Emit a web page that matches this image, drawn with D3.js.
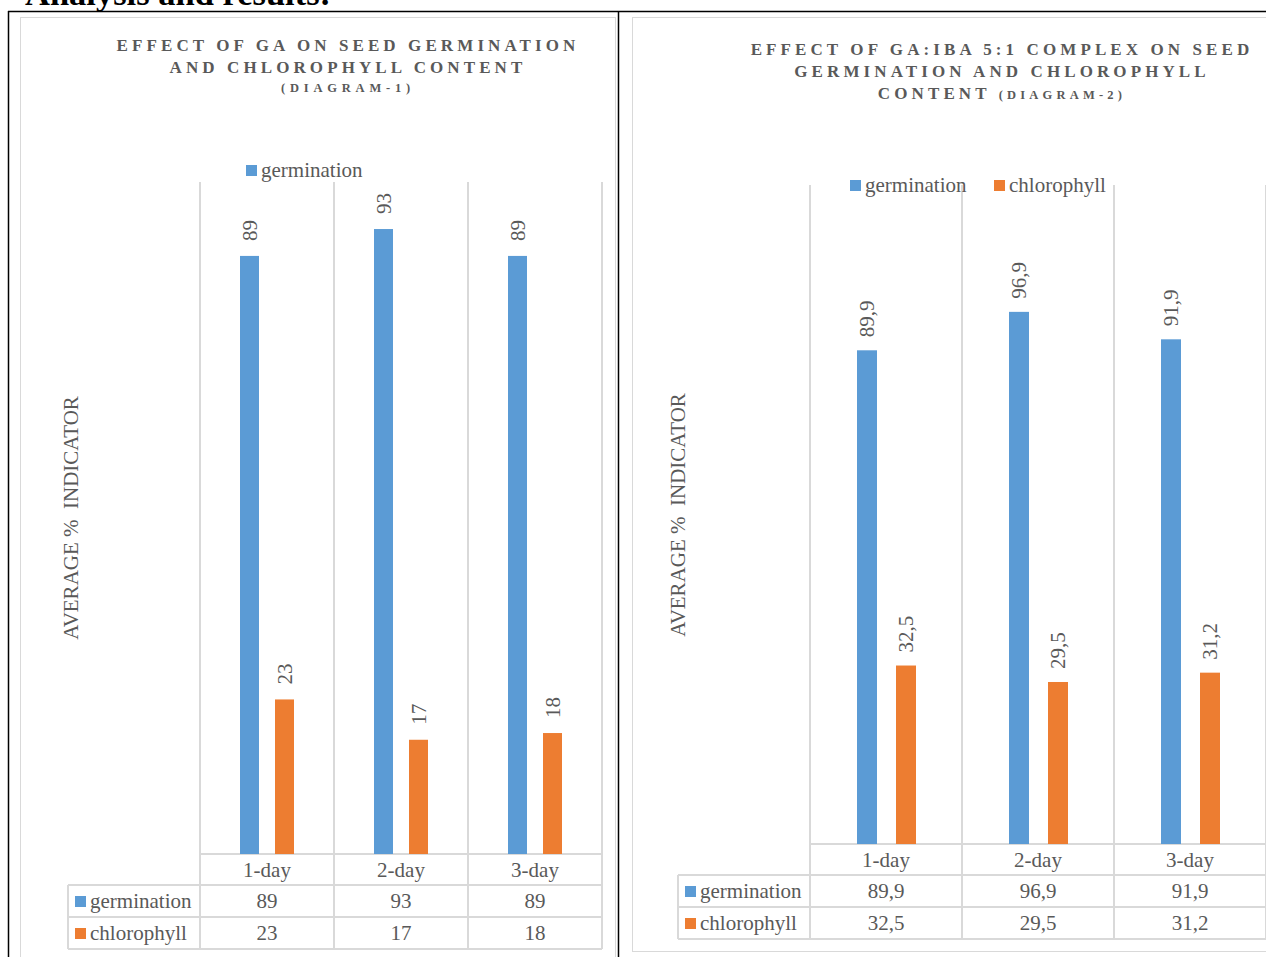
<!DOCTYPE html>
<html><head><meta charset="utf-8">
<script src="https://cdn.jsdelivr.net/npm/d3@7"></script>
<style>body{margin:0;background:#fff;} svg{display:block;font-family:"Liberation Serif","Times New Roman",serif;}</style>
</head><body><svg id="c" width="1266" height="957"></svg>
<script>
const categories = ["1-day", "2-day", "3-day"];
const seriesNames = ["germination", "chlorophyll"];
const germination1 = [89, 93, 89];
const chlorophyll1 = [23, 17, 18];
const germination2 = [89.9, 96.9, 91.9];
const chlorophyll2 = [32.5, 29.5, 31.2];
const title1 = ["EFFECT OF GA ON SEED GERMINATION", "AND CHLOROPHYLL CONTENT"];
const title1b = "(DIAGRAM-1)";
const title2 = ["EFFECT OF GA:IBA 5:1 COMPLEX ON SEED", "GERMINATION AND CHLOROPHYLL"];
const title2c = "CONTENT";
const title2b = "(DIAGRAM-2)";
const yTitle = "AVERAGE %  INDICATOR";

const colors = {germination: "#5b9bd5", chlorophyll: "#ed7d31"};
const grid = "#d9d9d9", txt = "#595959";
const FS = 21;
const svg = d3.select("#c");
const fmt = v => String(v).replace(".", ",");

// document frame
svg.append("text").attr("x", 25).attr("y", 4.5).attr("font-size", 34.5).attr("font-weight", "bold").attr("fill", "#000").text("Analysis and results:");
svg.append("line").attr("x1", 8).attr("x2", 1266).attr("y1", 11.5).attr("y2", 11.5).attr("stroke", "#000").attr("stroke-width", 1.5);
svg.append("line").attr("x1", 8.5).attr("x2", 8.5).attr("y1", 11).attr("y2", 957).attr("stroke", "#000").attr("stroke-width", 1.5);
svg.append("line").attr("x1", 618.5).attr("x2", 618.5).attr("y1", 11).attr("y2", 957).attr("stroke", "#000").attr("stroke-width", 1.5);
// chart area borders
svg.append("rect").attr("x", 20.5).attr("y", 17.5).attr("width", 595).attr("height", 950).attr("fill", "none").attr("stroke", grid);
svg.append("rect").attr("x", 632.5).attr("y", 17.5).attr("width", 650).attr("height", 934).attr("fill", "none").attr("stroke", grid);

function drawChart(cfg) {
  const g = svg.append("g");
  const x0 = d3.scaleBand().domain(categories).range([cfg.left, cfg.right]);
  const x1 = d3.scaleBand().domain(seriesNames).range(cfg.inner).paddingInner(cfg.pin);
  const y = d3.scaleLinear().domain([0, cfg.max]).range([cfg.base, cfg.top]);
  const data = {germination: cfg.g, chlorophyll: cfg.c};
  const bounds = categories.map(c => x0(c)).concat([cfg.right]);
  g.selectAll("line.v").data(bounds).join("line")
    .attr("x1", d => d).attr("x2", d => d).attr("y1", y(cfg.max)).attr("y2", cfg.rows[3])
    .attr("stroke", grid).attr("stroke-width", 2);
  g.append("line").attr("x1", cfg.left).attr("x2", cfg.right).attr("y1", cfg.rows[0]).attr("y2", cfg.rows[0]).attr("stroke", grid).attr("stroke-width", 2);
  [1, 2, 3].forEach(i => g.append("line").attr("x1", cfg.tleft).attr("x2", cfg.right).attr("y1", cfg.rows[i]).attr("y2", cfg.rows[i]).attr("stroke", grid).attr("stroke-width", 2));
  g.append("line").attr("x1", cfg.tleft).attr("x2", cfg.tleft).attr("y1", cfg.rows[1]).attr("y2", cfg.rows[3]).attr("stroke", grid).attr("stroke-width", 2);
  seriesNames.forEach(s => {
    categories.forEach((c, i) => {
      const v = data[s][i];
      const bx = x0(c) + x1(s);
      g.append("rect").attr("x", bx).attr("y", y(v)).attr("width", x1.bandwidth()).attr("height", y(0) - y(v)).attr("fill", colors[s]);
      const cx = bx + x1.bandwidth() / 2, ty = y(v) - cfg.lgap;
      g.append("text").attr("transform", `translate(${cx + 7},${ty}) rotate(-90)`)
        .attr("font-size", FS).attr("fill", txt).text(fmt(v));
    });
  });
  categories.forEach((c, i) => {
    const cx = x0(c) + x0.bandwidth() / 2;
    g.append("text").attr("x", cx).attr("y", cfg.rows[0] + 23).attr("text-anchor", "middle").attr("font-size", FS).attr("fill", txt).text(c);
    seriesNames.forEach((s, j) => {
      g.append("text").attr("x", cx).attr("y", cfg.rows[j + 1] + 23).attr("text-anchor", "middle").attr("font-size", FS).attr("fill", txt).text(fmt(data[s][i]));
    });
  });
  seriesNames.forEach((s, j) => {
    g.append("rect").attr("x", cfg.tleft + 7).attr("y", cfg.rows[j + 1] + 11).attr("width", 11).attr("height", 11).attr("fill", colors[s]);
    g.append("text").attr("x", cfg.tleft + 22).attr("y", cfg.rows[j + 1] + 23).attr("font-size", FS).attr("fill", txt).text(s);
  });
  cfg.legend.forEach(l => {
    g.append("rect").attr("x", l.x).attr("y", l.y - 11).attr("width", 11).attr("height", 11).attr("fill", colors[l.s]);
    g.append("text").attr("x", l.x + 15).attr("y", l.y + 1).attr("font-size", FS).attr("fill", txt).text(l.s);
  });
  g.append("text").attr("transform", `translate(${cfg.ytx},${cfg.yty}) rotate(-90)`).attr("text-anchor", "middle")
    .attr("font-size", FS).attr("fill", txt).style("white-space", "pre").text(yTitle);
  const t = g.append("g").attr("font-weight", "bold").attr("fill", txt).attr("text-anchor", "middle");
  cfg.title.forEach((line, i) => {
    const te = t.append("text").attr("x", cfg.tcx).attr("y", cfg.ty + i * 22).attr("font-size", 17).attr("letter-spacing", 4.1);
    if (line.kind === "mixed") {
      te.append("tspan").text(line.a + " ");
      te.append("tspan").attr("font-size", 12.5).attr("letter-spacing", 4.2).text(line.b);
    } else if (line.kind === "small") {
      te.attr("font-size", 12.5).attr("letter-spacing", 4.8).attr("y", cfg.ty + i * 22 - 3).text(line.a);
    } else te.text(line.a);
  });
}

drawChart({left: 200, right: 602, tleft: 68, base: 854, top: 182, max: 100, inner: [40, 94], pin: 16 / 35,
  rows: [854, 885, 917, 949], g: germination1, c: chlorophyll1, lgap: 15,
  legend: [{s: "germination", x: 246, y: 176}], ytx: 78, yty: 518,
  title: [{kind: "big", a: title1[0]}, {kind: "big", a: title1[1]}, {kind: "small", a: title1b}], tcx: 348, ty: 51});
drawChart({left: 810, right: 1266, tleft: 678, base: 844, top: 185, max: 120, inner: [47, 106], pin: 19 / 39,
  rows: [844, 875, 907, 939], g: germination2, c: chlorophyll2, lgap: 13,
  legend: [{s: "germination", x: 850, y: 191}, {s: "chlorophyll", x: 994, y: 191}], ytx: 685, yty: 515,
  title: [{kind: "big", a: title2[0]}, {kind: "big", a: title2[1]}, {kind: "mixed", a: title2c, b: title2b}], tcx: 1002, ty: 55});
</script></body></html>
